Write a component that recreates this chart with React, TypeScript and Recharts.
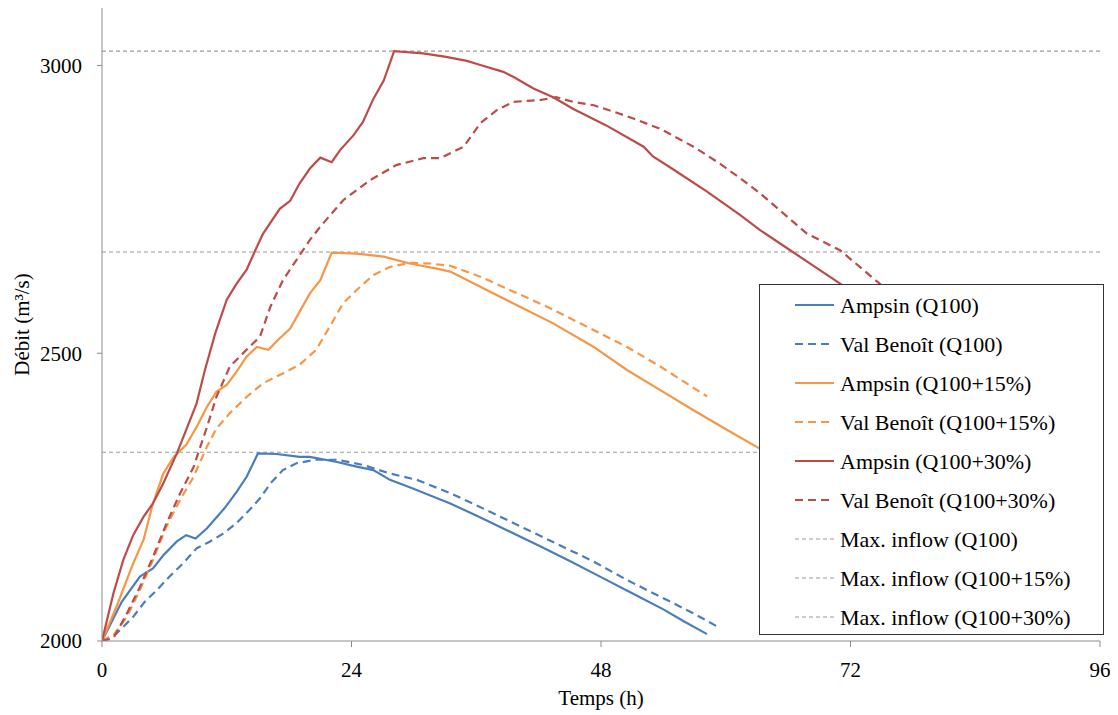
import React from "react";
import {
  LineChart,
  Line,
  XAxis,
  YAxis,
  ReferenceLine,
} from "recharts";

// Colours close to the old Excel palette used in the figure
const BLUE = "#4a7ebb";
const ORANGE = "#f79646";
const RED = "#be4b48";
const REF = "#9a9a9a";
const AXIS = "#8c8c8c";
const TEXT = "#000";
const FONT = "Liberation Serif, DejaVu Serif, serif";

const xTicks = [0, 24, 48, 72, 96];
const yTicks = [2000, 2500, 3000];

// Max. inflow levels (m3/s)
const maxInflow = [3025, 2676, 2328];

// Ampsin (Q100)
const ampsinQ100T = [0, 1.9, 3.65, 4.9, 5.9, 7.2, 8.1, 9.0, 10.1, 11.8, 12.95, 13.9, 15.0, 16.8, 19.0, 20.0, 22.6, 24.5, 26.1, 27.7, 29.9, 33.5, 36, 39, 42, 45, 48, 51, 54, 56, 58.2];
const ampsinQ100V = [2000, 2068, 2112, 2126, 2149, 2173, 2184, 2178, 2196, 2231, 2259, 2285, 2326, 2325, 2320, 2320, 2311, 2303, 2297, 2280, 2265, 2239, 2218, 2192, 2166, 2139, 2111, 2083, 2055, 2034, 2012];

// Val Benoit (Q100)
const valQ100T = [0, 1.4, 3.0, 4.1, 5.3, 6.5, 7.8, 9.1, 10.4, 11.7, 12.95, 14.2, 15.2, 16.2, 17.4, 18.7, 20.6, 22.6, 25.1, 27.7, 30.3, 33.5, 36, 39, 42, 45.0, 47.3, 50.5, 53.7, 56.9, 59.4];
const valQ100V = [2000, 2013, 2042, 2068, 2089, 2112, 2135, 2161, 2173, 2187, 2205, 2228, 2248, 2274, 2297, 2309, 2315, 2315, 2306, 2291, 2280, 2257, 2236, 2210, 2184, 2158, 2138, 2106, 2077, 2048, 2023];

// Ampsin (Q100+15%)
const ampsin15T = [0, 1.4, 3.0, 4.0, 4.9, 5.9, 6.9, 8.1, 9.1, 10.1, 11.0, 12.0, 12.95, 13.9, 14.9, 16.0, 17.1, 18.1, 19.0, 20.0, 21.0, 22.1, 24.5, 27.1, 29.6, 32.2, 33.5, 37.0, 40.2, 43.4, 47.3, 50.5, 53.7, 56.9, 60.1, 63.1, 66, 70, 74];
const ampsin15V = [2000, 2060, 2135, 2176, 2239, 2291, 2320, 2341, 2372, 2407, 2433, 2445, 2468, 2494, 2511, 2506, 2526, 2543, 2572, 2604, 2627, 2675, 2673, 2668, 2656, 2647, 2642, 2610, 2581, 2552, 2511, 2471, 2436, 2401, 2367, 2336, 2305, 2262, 2220];

// Val Benoit (Q100+15%)
const val15T = [0, 1.1, 2.4, 3.65, 4.9, 6.2, 7.5, 8.8, 10.1, 11.0, 12.3, 13.9, 15.5, 17.4, 19.0, 20.6, 21.9, 23.2, 24.5, 26.1, 27.7, 29.6, 31.5, 33.5, 36.4, 39.6, 42.8, 46.0, 50.5, 53.7, 56.2, 58.2];
const val15V = [2000, 2010, 2042, 2089, 2141, 2199, 2245, 2285, 2338, 2369, 2396, 2424, 2448, 2465, 2480, 2506, 2546, 2587, 2610, 2636, 2650, 2657, 2656, 2652, 2633, 2607, 2581, 2552, 2511, 2477, 2448, 2425];

// Ampsin (Q100+30%)
const ampsin30T = [0, 1.1, 2.05, 3.0, 4.0, 4.9, 5.9, 7.2, 8.1, 9.1, 9.9, 10.9, 12.0, 12.95, 13.9, 14.9, 15.5, 17.1, 18.1, 19.0, 20.0, 21.0, 22.1, 22.9, 24.2, 25.1, 26.1, 27.1, 28.1, 30.9, 33.1, 35.1, 36.4, 38.6, 39.6, 41.5, 43.4, 45.3, 48.5, 52.1, 53.0, 55.0, 58.2, 61.4, 63.3, 66.2, 71.0, 75, 79, 83];
const ampsin30V = [2000, 2083, 2141, 2184, 2216, 2239, 2274, 2326, 2367, 2413, 2471, 2535, 2593, 2621, 2645, 2685, 2708, 2751, 2765, 2795, 2821, 2840, 2832, 2853, 2879, 2902, 2942, 2974, 3025, 3021, 3015, 3008, 3001, 2989, 2980, 2960, 2945, 2925, 2896, 2859, 2842, 2819, 2781, 2740, 2714, 2679, 2621, 2570, 2520, 2470];

// Val Benoit (Q100+30%)
const val30T = [0, 1.1, 2.4, 3.65, 4.9, 6.2, 7.5, 8.8, 10.1, 11.0, 12.3, 13.9, 15.2, 16.2, 17.4, 18.7, 20.0, 21.0, 23.2, 25.8, 28.3, 30.9, 32.5, 34.8, 36.4, 38.0, 39.6, 42.1, 43.7, 45.3, 47.3, 49.2, 51.1, 53.7, 56.9, 59.4, 61.4, 63.3, 67.8, 71.0, 74.8, 78, 82];
const val30V = [2000, 2005, 2048, 2094, 2146, 2204, 2256, 2302, 2372, 2424, 2477, 2506, 2529, 2581, 2627, 2662, 2697, 2720, 2766, 2801, 2827, 2839, 2839, 2859, 2900, 2923, 2937, 2940, 2945, 2937, 2931, 2920, 2908, 2890, 2859, 2830, 2804, 2778, 2708, 2679, 2621, 2570, 2510];

const toRows = (t: number[], v: number[]) => t.map((x, i) => ({ t: x, q: v[i] }));

const series = [
  { name: "Ampsin (Q100)", color: BLUE, dash: undefined, data: toRows(ampsinQ100T, ampsinQ100V) },
  { name: "Val Benoît (Q100)", color: BLUE, dash: "8 5", data: toRows(valQ100T, valQ100V) },
  { name: "Ampsin (Q100+15%)", color: ORANGE, dash: undefined, data: toRows(ampsin15T, ampsin15V) },
  { name: "Val Benoît (Q100+15%)", color: ORANGE, dash: "8 5", data: toRows(val15T, val15V) },
  { name: "Ampsin (Q100+30%)", color: RED, dash: undefined, data: toRows(ampsin30T, ampsin30V) },
  { name: "Val Benoît (Q100+30%)", color: RED, dash: "8 5", data: toRows(val30T, val30V) },
];

const refNames = ["Max. inflow (Q100)", "Max. inflow (Q100+15%)", "Max. inflow (Q100+30%)"];

function LegendBox() {
  const rows = [
    ...series.map((s) => ({ name: s.name, color: s.color, dash: s.dash, w: 2.2 })),
    ...refNames.map((n) => ({ name: n, color: REF, dash: "4 3", w: 1.2 })),
  ];
  return (
    <div
      style={{
        position: "absolute",
        left: 751,
        top: 276,
        width: 343,
        height: 349,
        background: "#fff",
        border: "1.5px solid #333",
      }}
    >
      <svg width={343} height={349}>
        {rows.map((r, i) => {
          const y = 20 + i * 39;
          return (
            <g key={r.name}>
              <line x1={35} x2={74} y1={y} y2={y} stroke={r.color} strokeWidth={r.w} strokeDasharray={r.dash} />
              <text x={80} y={y} dy="0.35em" style={{ fontFamily: FONT }} fontSize={22} fill={TEXT}>
                {r.name}
              </text>
            </g>
          );
        })}
      </svg>
    </div>
  );
}

export default function App() {
  const tickStyle = { fontFamily: FONT, fontSize: 21, fill: TEXT };
  return (
    <div style={{ position: "relative", width: 1110, height: 707, fontFamily: FONT }}>
      <LineChart width={1110} height={707} margin={{ top: 0, right: 18, left: 0, bottom: 24 }}>
        <XAxis
          dataKey="t"
          type="number"
          domain={[0, 96]}
          ticks={xTicks}
          allowDataOverflow
          stroke={AXIS}
          tickSize={6}
          tickMargin={15}
          tick={tickStyle}
          height={50}
          label={{
            content: ({ viewBox }: any) => (
              <text
                x={viewBox.x + viewBox.width / 2}
                y={viewBox.y + 64}
                textAnchor="middle"
                style={{ fontFamily: FONT }}
                fontSize={21}
                fill={TEXT}
              >
                Temps (h)
              </text>
            ),
          }}
        />
        <YAxis
          dataKey="q"
          type="number"
          domain={[2000, 3100]}
          ticks={yTicks}
          allowDataOverflow
          stroke={AXIS}
          tickSize={5}
          tickMargin={15}
          tick={tickStyle}
          width={94}
          label={{
            content: ({ viewBox }: any) => {
              const cx = 14;
              const cy = viewBox.y + viewBox.height / 2;
              return (
                <text
                  x={cx}
                  y={cy}
                  transform={`rotate(-90 ${cx} ${cy})`}
                  textAnchor="middle"
                  dominantBaseline="central"
                  style={{ fontFamily: FONT }}
                  fontSize={21}
                  fill={TEXT}
                >
                  Débit (m³/s)
                </text>
              );
            },
          }}
        />
        {maxInflow.map((v) => (
          <ReferenceLine key={v} y={v} stroke={REF} strokeDasharray="4 3" strokeWidth={1.2} />
        ))}
        {series.map((s) => (
          <Line
            key={s.name}
            data={s.data}
            dataKey="q"
            name={s.name}
            type="linear"
            stroke={s.color}
            strokeWidth={2.2}
            strokeDasharray={s.dash}
            dot={false}
            activeDot={false}
            isAnimationActive={false}
          />
        ))}
      </LineChart>
      <LegendBox />
    </div>
  );
}
